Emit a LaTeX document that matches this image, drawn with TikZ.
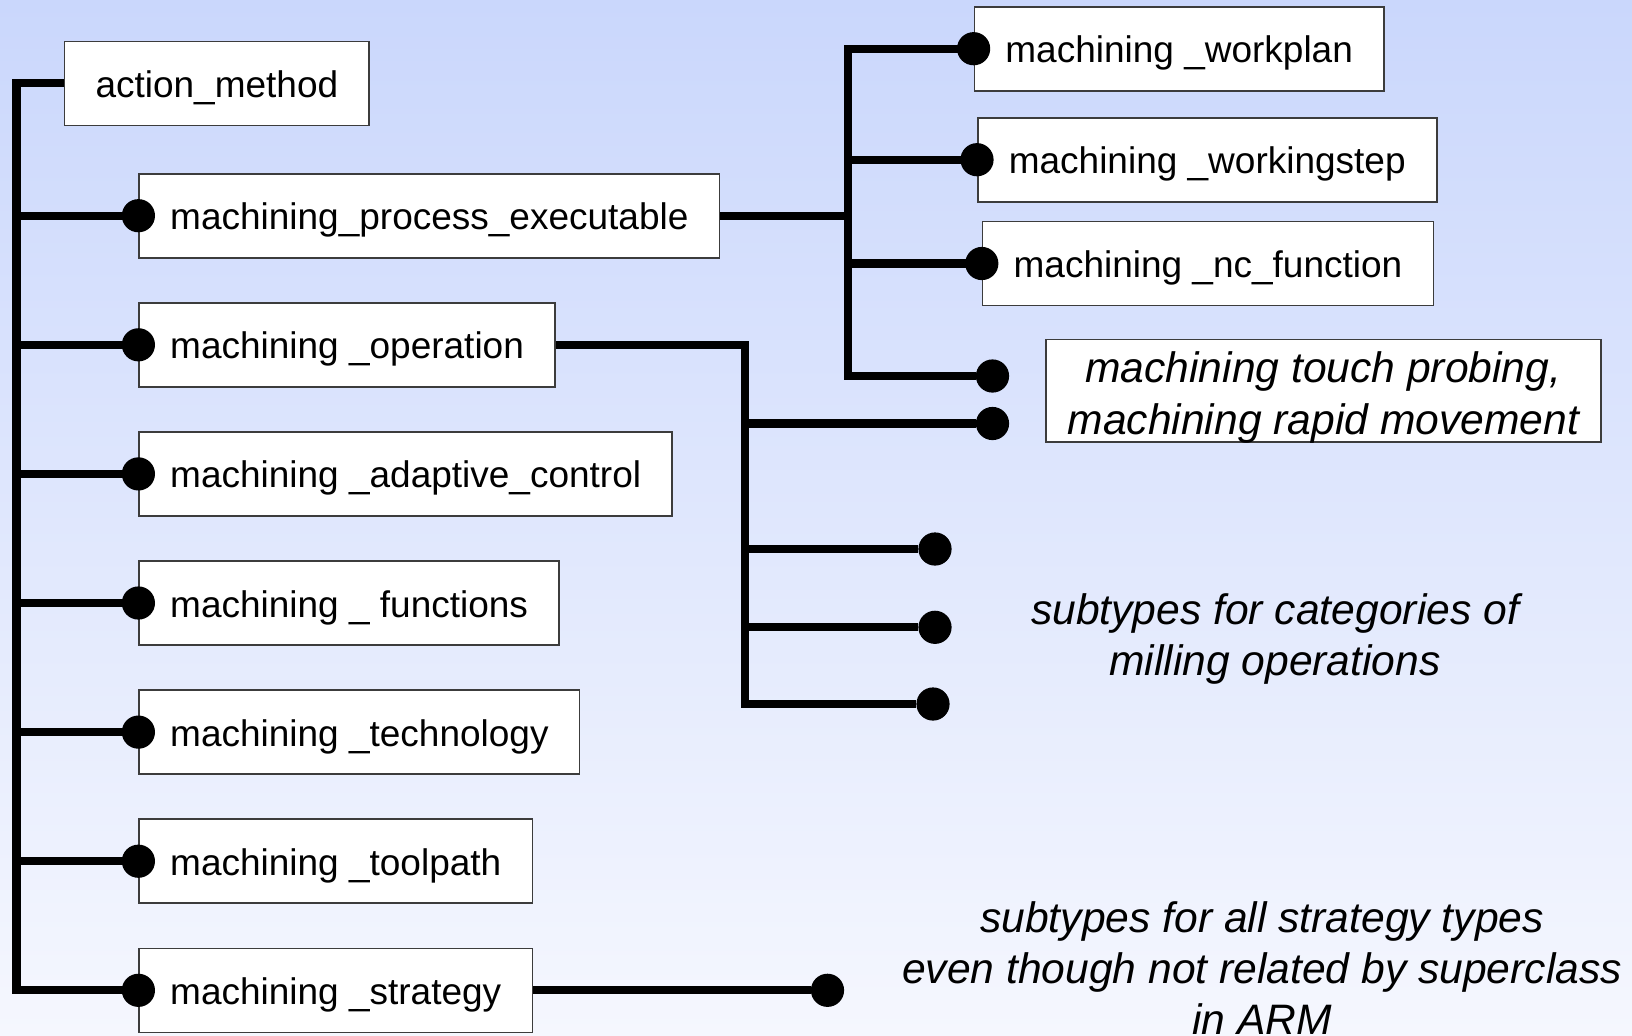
\documentclass[tikz,border=0pt]{standalone}
\usepackage{fontspec}
\setmainfont{Liberation Sans}
\definecolor{bgtop}{RGB}{202,215,252}
\definecolor{bgbot}{RGB}{245,247,254}
\definecolor{boxline}{RGB}{60,60,60}
\begin{document}
\begin{tikzpicture}[x=0.5pt,y=-0.5pt,
  entity/.style={draw=boxline, line width=0.8pt, fill=white, anchor=west,
    minimum height=42pt, inner xsep=15.5pt, inner ysep=0pt,
    text height=14pt, text depth=0pt,
    font=\fontsize{18.5pt}{22pt}\selectfont},
  pin/.style={circle, fill=black, draw=none, inner sep=0pt, minimum size=16.6pt},
  wire/.style={line width=4.1pt, line join=miter},
  note/.style={align=center, inner sep=0pt,
    font=\fontsize{21.3pt}{25.5pt}\selectfont\itshape}]

% page and background shading
\shade[top color=bgtop, bottom color=bgbot] (0,0) rectangle (1632,1035);
\useasboundingbox (0,0) rectangle (1632,1035);

% entity boxes
\node[entity] (am)    at (63.7,83.3)   {action\_method};
\node[entity] (mpe)   at (138.4,215.7) {machining\_process\_executable};
\node[entity] (op)    at (138.4,344.8) {machining \_operation};
\node[entity] (adc)   at (138.4,473.9) {machining \_adaptive\_control};
\node[entity] (fun)   at (138.4,603.0) {machining \_ functions};
\node[entity] (tech)  at (138.4,732.1) {machining \_technology};
\node[entity] (tpath) at (138.4,861.2) {machining \_toolpath};
\node[entity] (strat) at (138.4,990.3) {machining \_strategy};

\node[entity] (wp) at (973.6,48.7)  {machining \_workplan};
\node[entity] (ws) at (977.0,159.7) {machining \_workingstep};
\node[entity] (nc) at (981.8,263.5) {machining \_nc\_function};

% box holding the two movement subtypes
\node[draw=boxline, line width=0.8pt, fill=white, minimum width=277.5pt,
  minimum height=51.2pt, inner sep=0pt] (probe) at (1323.3,390.5) {};
\node[note, font=\fontsize{21.3pt}{26pt}\selectfont\itshape]
  (probetext) at (1323.3,397) {machining touch probing,\\machining rapid movement};

% free end points
\node[pin] (dTouch) at (992.5,376) {};
\node[pin] (dRapid) at (992.5,423.5) {};
\node[pin] (dM1) at (935,549) {};
\node[pin] (dM2) at (935,627.3) {};
\node[pin] (dM3) at (933,704) {};
\node[pin] (dStrat) at (827.5,990.3) {};

% bus lines
\coordinate (tbus) at (16.5,0);
\coordinate (pbus) at (848,0);
\coordinate (obus) at (744.8,0);

% main trunk
\draw[wire] (am.west) -- (am.west -| tbus) -- (strat.west -| tbus) -- (strat.west);
\foreach \n in {mpe,op,adc,fun,tech,tpath}
  \draw[wire] (tbus |- \n.west) -- (\n.west);

% process executable subtypes
\draw[wire] (wp.west) -- (wp.west -| pbus) -- (dTouch -| pbus) -- (dTouch);
\draw[wire] (ws.west) -- (ws.west -| pbus);
\draw[wire] (nc.west) -- (nc.west -| pbus);
\draw[wire] (mpe.east) -- (mpe.east -| pbus);

% operation subtypes
\draw[wire] (op.east) -- (op.east -| obus) -- (dM3 -| obus) -- (dM3);
\draw[wire] (obus |- dRapid) -- (dRapid);
\draw[wire] (obus |- dM1) -- (dM1);
\draw[wire] (obus |- dM2) -- (dM2);

% strategy subtypes
\draw[wire] (strat.east) -- (dStrat);

% pins on the entity boxes
\foreach \n in {mpe,op,adc,fun,tech,tpath,strat,wp,ws,nc}
  \node[pin] at (\n.west) {};

% notes
\node[note] (catnote) at (1275,639)
  {subtypes for categories of\\milling operations};
\node[note] (stratnote) at (1262,968)
  {subtypes for all strategy types\\even though not related by superclass\\in ARM};
\end{tikzpicture}
\end{document}
